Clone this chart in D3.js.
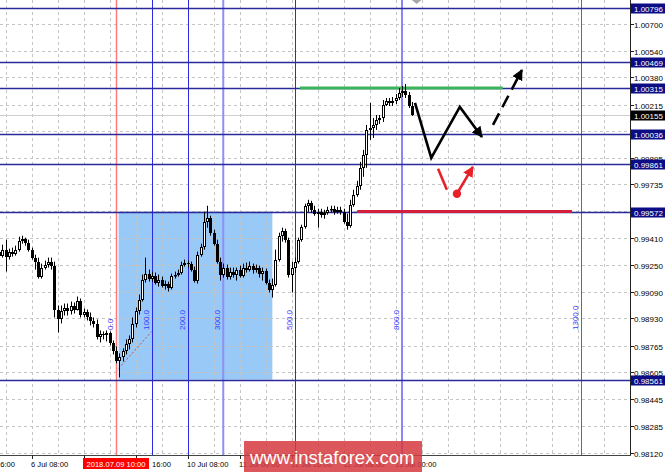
<!DOCTYPE html>
<html><head><meta charset="utf-8">
<script src="https://cdn.jsdelivr.net/npm/d3@7/dist/d3.min.js"></script>
<style>body{margin:0;background:#fff}svg{display:block;font-family:"Liberation Sans",Arial,sans-serif}</style>
</head><body><svg id="c" width="665" height="472"></svg>
<script>
// ---------- DATA ----------
// H1 bars, bar index relative to 2018.07.09 10:00 (index 0)
const firstBar = -36;
const openP = [
0.99331,0.99307,0.99343,0.99301,0.99331,0.99319,0.99343,0.99397,0.99409,0.99385,
0.99343,0.99295,0.99271,0.99181,0.99235,0.99253,0.99271,0.99247,0.98983,0.98923,
0.98971,0.98995,0.98971,0.99007,0.98983,0.99037,0.98947,0.98965,0.98935,0.98911,
0.98893,0.98815,0.98833,0.98827,0.98839,0.98779,0.98731,0.98671,0.98695,0.98731,
0.98773,0.98803,0.98893,0.98971,0.99043,0.99163,0.99199,0.99169,0.99187,0.99145,
0.99163,0.99127,0.99139,0.99115,0.99187,0.99193,0.99205,0.99253,0.99265,0.99259,
0.99223,0.99157,0.99313,0.99361,0.99511,0.99535,0.99445,0.99379,0.99271,0.99193,
0.99235,0.99181,0.99211,0.99193,0.99223,0.99187,0.99235,0.99223,0.99247,0.99223,
0.99235,0.99199,0.99217,0.99145,0.99103,0.99133,0.99283,0.99427,0.99457,0.99403,
0.99193,0.99235,0.99271,0.99403,0.99481,0.99607,0.99625,0.99583,0.99559,0.99571,
0.99553,0.99565,0.99583,0.99589,0.99571,0.99583,0.99571,0.99511,0.99487,0.99613,
0.99673,0.99727,0.99835,0.99913,1.00063,1.00075,1.00093,1.00123,1.00135,1.00213,
1.00237,1.00225,1.00237,1.00255,1.00285,1.00297,1.00273,1.00207];
const highP = [
0.99355,0.99373,0.99403,0.99349,0.99355,0.99367,0.99421,0.99427,0.99415,0.99403,
0.99355,0.99313,0.99295,0.99259,0.99277,0.99295,0.99295,0.99271,0.99007,0.99007,
0.99019,0.99019,0.99031,0.99025,0.99061,0.99049,0.98989,0.98983,0.98965,0.98935,
0.98923,0.98857,0.98851,0.98857,0.98851,0.98797,0.98761,0.98719,0.98749,0.98803,
0.98827,0.98935,0.98995,0.99073,0.99193,0.99295,0.99223,0.99211,0.99205,0.99193,
0.99181,0.99157,0.99151,0.99199,0.99211,0.99223,0.99271,0.99283,0.99277,0.99271,
0.99241,0.99331,0.99379,0.99571,0.99607,0.99547,0.99463,0.99403,0.99295,0.99259,
0.99253,0.99235,0.99235,0.99235,0.99247,0.99259,0.99265,0.99271,0.99259,0.99253,
0.99247,0.99235,0.99229,0.99163,0.99169,0.99343,0.99445,0.99475,0.99469,0.99415,
0.99271,0.99295,0.99415,0.99493,0.99619,0.99643,0.99637,0.99607,0.99589,0.99589,
0.99583,0.99601,0.99607,0.99607,0.99601,0.99601,0.99589,0.99559,0.99643,0.99703,
0.99757,0.99871,0.99943,1.00093,1.00225,1.00135,1.00153,1.00153,1.00243,1.00255,
1.00255,1.00261,1.00279,1.00315,1.00327,1.00339,1.00291,1.00231];
const lowP = [
0.99295,0.99295,0.99211,0.99283,0.99301,0.99307,0.99331,0.99379,0.99367,0.99331,
0.99283,0.99223,0.99169,0.99169,0.99223,0.99235,0.99223,0.98935,0.98845,0.98899,
0.98947,0.98947,0.98953,0.98959,0.98977,0.98935,0.98935,0.98917,0.98887,0.98875,
0.98803,0.98785,0.98803,0.98791,0.98767,0.98713,0.98659,0.98575,0.98671,0.98713,
0.98743,0.98785,0.98875,0.98953,0.99031,0.99145,0.99151,0.99151,0.99133,0.99121,
0.99115,0.99103,0.99091,0.99103,0.99169,0.99181,0.99193,0.99241,0.99235,0.99211,
0.99145,0.99139,0.99301,0.99343,0.99475,0.99427,0.99367,0.99259,0.99157,0.99175,
0.99163,0.99163,0.99175,0.99157,0.99175,0.99175,0.99205,0.99211,0.99199,0.99205,
0.99175,0.99157,0.99133,0.99085,0.99055,0.99121,0.99271,0.99391,0.99385,0.99175,
0.99085,0.99205,0.99259,0.99391,0.99469,0.99571,0.99565,0.99547,0.99475,0.99535,
0.99529,0.99553,0.99565,0.99553,0.99559,0.99553,0.99499,0.99463,0.99475,0.99601,
0.99661,0.99703,0.99781,0.99835,1.00003,1.00015,1.00063,1.00099,1.00111,1.00207,
1.00207,1.00207,1.00219,1.00243,1.00261,1.00255,1.00195,1.00147];
const closeP = [
0.99307,0.99343,0.99301,0.99331,0.99319,0.99343,0.99397,0.99409,0.99385,0.99343,
0.99295,0.99271,0.99181,0.99235,0.99253,0.99271,0.99247,0.98983,0.98923,0.98971,
0.98995,0.98971,0.99007,0.98983,0.99037,0.98947,0.98965,0.98935,0.98911,0.98893,
0.98815,0.98833,0.98827,0.98839,0.98779,0.98731,0.98671,0.98695,0.98731,0.98773,
0.98803,0.98893,0.98971,0.99043,0.99163,0.99199,0.99169,0.99187,0.99145,0.99163,
0.99127,0.99139,0.99115,0.99187,0.99193,0.99205,0.99253,0.99265,0.99259,0.99223,
0.99157,0.99313,0.99361,0.99511,0.99535,0.99445,0.99379,0.99271,0.99193,0.99235,
0.99181,0.99211,0.99193,0.99223,0.99187,0.99235,0.99223,0.99247,0.99223,0.99235,
0.99199,0.99217,0.99145,0.99103,0.99133,0.99283,0.99427,0.99457,0.99403,0.99193,
0.99235,0.99271,0.99403,0.99481,0.99607,0.99625,0.99583,0.99559,0.99571,0.99553,
0.99565,0.99583,0.99589,0.99571,0.99583,0.99571,0.99511,0.99487,0.99613,0.99673,
0.99727,0.99835,0.99913,1.00063,1.00075,1.00093,1.00123,1.00135,1.00213,1.00237,
1.00225,1.00237,1.00255,1.00285,1.00297,1.00273,1.00207,1.00153];

// price grid values; labels that are fully covered by level boxes in the reference are not printed
const priceTicks = [1.00700,1.00540,1.00380,1.00215,1.00055,0.99895,0.99735,0.99575,0.99410,
  0.99250,0.99090,0.98930,0.98765,0.98605,0.98445,0.98285,0.98120];
const hiddenTickLabels = [1.00055,0.99575];
const levelLines = [1.00796,1.00469,1.00315,1.00036,0.99861,0.99572,0.98561];
const bidPrice = 1.00155;
// time axis: tick bars and the part of each label that is visible in the reference
const timeTickBars = [-26,-10,6,22,38,54,70,86];
const timeLabels = ["6:00","6 Jul 08:00","16:00","10 Jul 08:00","11 Jul 00:00","11 Jul 16:00","12 Jul 08:00","13 Jul 00:00"];
const timeLabelBars = [-42,-26,6,22,38,54,70,86];
const cursorLabel = "2018.07.09 10:00";
const cursorBar = 0;
// Fibonacci time zones (unit = 11 bars)
const fiboLevels = [0,1,2,3,5,8,13];
const fiboLabels = ["0.0","100.0","200.0","300.0","500.0","800.0","1300.0"];
const fiboUnit = 11;
const fiboAnchor = [[0,0.98611],[11,0.98851]];
// rectangle (bars, prices)
const boxBars = [0.8,48.1], boxPrices = [0.99572,0.98561];
const greenLine = {bars:[56.6,119], price:1.00315};
const redLine = {bars:[74.2,140.3], price:0.99572};
// forecast drawings (bar, price)
const blackPath = [[92,1.00225],[97,0.99895],[105.8,1.00201],[112.6,1.00021]];
const blackDashed = [[116,1.00093],[124.9,1.00423]];
const redStroke = [[99.1,0.99829],[101.8,0.99703]];
const redArrow = [[104.9,0.99679],[109.8,0.99841]];

// ---------- SCALES ----------
const svg = d3.select("#c");
const plotR = 630, plotB = 455;
const x = d3.scaleLinear().domain([0,1]).range([116,119.25]);
const y = d3.scaleLinear().domain([0.98120,1.00700]).range([453,24]);
const rx = v => Math.round(x(v));
const ry = v => Math.round(y(v));

svg.append("rect").attr("width",665).attr("height",472).attr("fill","#fff");
svg.append("defs").append("clipPath").attr("id","clip")
  .append("rect").attr("width",plotR).attr("height",plotB);
const defs = svg.select("defs");
function marker(id,color){
  defs.append("marker").attr("id",id).attr("viewBox","0 0 10 10").attr("refX",9).attr("refY",5)
    .attr("markerWidth",4.2).attr("markerHeight",4.2).attr("orient","auto").attr("markerUnits","strokeWidth")
    .append("path").attr("d","M0,0 L10,5 L0,10 Z").attr("fill",color);
}
marker("ab","#000"); marker("ar","#e8202a");
const g = svg.append("g").attr("clip-path","url(#clip)");

// rectangle
g.append("rect").attr("x",x(boxBars[0])).attr("y",y(boxPrices[0]))
  .attr("width",x(boxBars[1])-x(boxBars[0])).attr("height",y(boxPrices[1])-y(boxPrices[0]))
  .attr("fill","#99c9f7");

// grid
const gridBars = d3.range(-34,170,8);
g.selectAll(".gv").data(gridBars).join("line").attr("x1",d=>rx(d)+0.5).attr("x2",d=>rx(d)+0.5)
  .attr("y1",0).attr("y2",plotB).attr("stroke","#c4c4c4").attr("stroke-dasharray","3,3");
g.selectAll(".gh").data(priceTicks).join("line").attr("x1",0).attr("x2",plotR)
  .attr("y1",d=>ry(d)+0.5).attr("y2",d=>ry(d)+0.5).attr("stroke","#c4c4c4").attr("stroke-dasharray","3,3");

// bid line
g.append("line").attr("x1",0).attr("x2",plotR).attr("y1",ry(bidPrice)+0.5).attr("y2",ry(bidPrice)+0.5)
  .attr("stroke","#cfcfcf");

// fibo dotted line
g.append("line").attr("x1",x(fiboAnchor[0][0])).attr("y1",y(fiboAnchor[0][1]))
  .attr("x2",x(fiboAnchor[1][0])).attr("y2",y(fiboAnchor[1][1]))
  .attr("stroke","#c0504d").attr("stroke-width",1).attr("stroke-dasharray","2,2");

// fibo time zone vertical lines
const fiboColors = ["#ff7b7b","#2b2be6","#2b2be6","#8f8ff6","#2b2be6","#8787f5","#5a5af0"];
fiboLevels.forEach((lv,k)=>{
  if(k===0) return;
  const xx = x(lv*fiboUnit);
  const soft = (k===3||k===5);
  g.append("line").attr("x1",soft?xx:Math.round(xx)+0.5).attr("x2",soft?xx:Math.round(xx)+0.5)
    .attr("y1",0).attr("y2",plotB).attr("stroke",fiboColors[k]).attr("stroke-width",soft?2:1);
});
// red cursor vertical line
g.append("line").attr("x1",rx(cursorBar)+0.5).attr("x2",rx(cursorBar)+0.5).attr("y1",0).attr("y2",plotB)
  .attr("stroke","#ff7b7b").attr("stroke-width",1.5);

// horizontal levels
g.selectAll(".lv").data(levelLines).join("line").attr("x1",0).attr("x2",plotR)
  .attr("y1",d=>ry(d)+0.5).attr("y2",d=>ry(d)+0.5).attr("stroke","#2a2a9c").attr("stroke-width",1.3);

// green and red level segments
g.append("line").attr("x1",x(greenLine.bars[0])).attr("x2",x(greenLine.bars[1]))
  .attr("y1",y(greenLine.price)).attr("y2",y(greenLine.price)).attr("stroke","#3cb55a").attr("stroke-width",3);
g.append("line").attr("x1",x(redLine.bars[0])).attr("x2",x(redLine.bars[1]))
  .attr("y1",y(redLine.price)).attr("y2",y(redLine.price)).attr("stroke","#d31f3c").attr("stroke-width",3);

// candles
const bars = openP.map((o,k)=>({i:firstBar+k,o,h:highP[k],l:lowP[k],c:closeP[k]}));
const cg = g.append("g");
bars.forEach(b=>{
  const px = rx(b.i);
  cg.append("line").attr("x1",px+0.5).attr("x2",px+0.5).attr("y1",y(b.h)).attr("y2",y(b.l))
    .attr("stroke","#000").attr("stroke-width",1);
  const top = Math.round(y(Math.max(b.o,b.c))), bot = Math.round(y(Math.min(b.o,b.c)));
  if(b.c < b.o){
    cg.append("rect").attr("x",px-1).attr("y",top).attr("width",3).attr("height",Math.max(1,bot-top)).attr("fill","#000");
  } else {
    cg.append("rect").attr("x",px-0.5).attr("y",top+0.5).attr("width",2).attr("height",Math.max(0.5,bot-top-1))
      .attr("fill","#fff").attr("stroke","#000").attr("stroke-width",1);
  }
});

// fibo labels
fiboLevels.forEach((lv,k)=>{
  const xx = x(lv*fiboUnit)-3;
  g.append("text").attr("transform",`translate(${xx},330) rotate(-90)`)
    .attr("font-size",8).attr("fill","#3838ff").text(fiboLabels[k]);
});

// forecast drawings
const line = d3.line().x(d=>x(d[0])).y(d=>y(d[1]));
g.append("path").attr("d",line(blackPath)).attr("fill","none").attr("stroke","#000")
  .attr("stroke-width",2.6).attr("stroke-linejoin","miter").attr("marker-end","url(#ab)");
g.append("path").attr("d",line(blackDashed)).attr("fill","none").attr("stroke","#000")
  .attr("stroke-width",2.6).attr("stroke-dasharray","13,7").attr("marker-end","url(#ab)");
g.append("path").attr("d",line(redStroke)).attr("fill","none").attr("stroke","#e8202a").attr("stroke-width",2.6);
g.append("path").attr("d",line(redArrow)).attr("fill","none").attr("stroke","#e8202a")
  .attr("stroke-width",2.6).attr("marker-end","url(#ar)");
g.append("circle").attr("cx",x(redArrow[0][0])).attr("cy",y(redArrow[0][1])).attr("r",4.2).attr("fill","#e8202a");

// chart shift marker
svg.append("path").attr("d",`M${x(91)},0 L${x(94)},0 L${x(92.5)},4 Z`).attr("fill","#a8a8a8");

// ---------- AXES ----------
svg.append("line").attr("x1",plotR+0.5).attr("x2",plotR+0.5).attr("y1",0).attr("y2",plotB+1).attr("stroke","#222");
svg.append("line").attr("x1",0).attr("x2",plotR+1).attr("y1",plotB+0.5).attr("y2",plotB+0.5).attr("stroke","#444");

const ra = svg.append("g").attr("font-size",8).attr("fill","#000");
priceTicks.forEach(p=>{
  ra.append("line").attr("x1",plotR).attr("x2",plotR+4).attr("y1",ry(p)+0.5).attr("y2",ry(p)+0.5).attr("stroke","#222");
  if(!hiddenTickLabels.includes(p))
    ra.append("text").attr("x",634).attr("y",ry(p)+3.5).text(p.toFixed(5));
});
levelLines.forEach(p=>{
  ra.append("rect").attr("x",631).attr("y",ry(p)-4.5).attr("width",34).attr("height",10).attr("fill","#0c0c84");
  ra.append("text").attr("x",634).attr("y",ry(p)+3.5).attr("fill","#fff").text(p.toFixed(5));
});
ra.append("rect").attr("x",631).attr("y",ry(bidPrice)-4.5).attr("width",34).attr("height",10).attr("fill","#000");
ra.append("text").attr("x",634).attr("y",ry(bidPrice)+3.5).attr("fill","#fff").text(bidPrice.toFixed(5));

const ba = svg.append("g").attr("font-size",7.6).attr("fill","#000");
timeTickBars.forEach(b=>{
  ba.append("line").attr("x1",rx(b)+0.5).attr("x2",rx(b)+0.5).attr("y1",plotB).attr("y2",plotB+4).attr("stroke","#222");
});
timeLabels.forEach((t,k)=>{
  const b = timeLabelBars[k];
  // partially hidden labels keep only their visible tail, aligned where the full label ends
  const partial = (t.length <= 5);
  ba.append("text").attr("x", partial ? rx(b)+35 : rx(b)-1).attr("y",467)
    .attr("text-anchor", partial ? "end" : "start").text(t);
});
ba.append("rect").attr("x",x(cursorBar)-33).attr("y",458).attr("width",66).attr("height",11).attr("fill","#ff0000");
ba.append("text").attr("x",x(cursorBar)).attr("y",466.5).attr("text-anchor","middle").attr("fill","#fff").text(cursorLabel);

// watermark
svg.append("rect").attr("x",244).attr("y",441).attr("width",178).attr("height",31).attr("fill","#d63a40").attr("opacity",0.85);
svg.append("text").attr("x",250).attr("y",464).attr("font-size",18.5).attr("fill","#fff").text("www.instaforex.com");
</script></body></html>
